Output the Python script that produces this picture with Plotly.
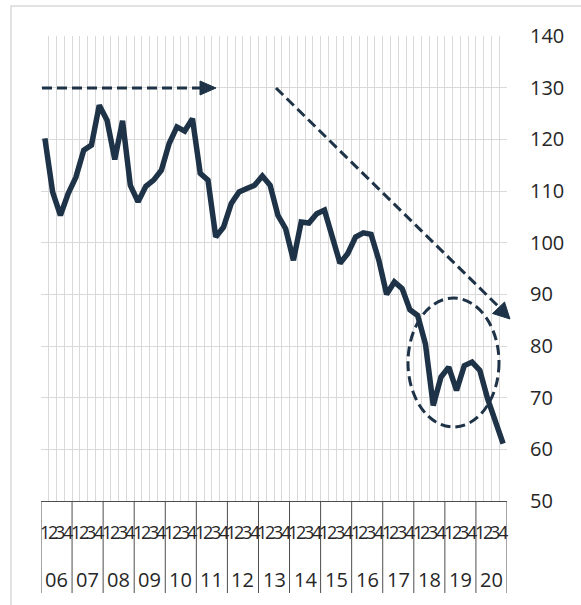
import plotly.graph_objects as go

# ---- data ----
years = ["06", "07", "08", "09", "10", "11", "12", "13", "14", "15", "16", "17", "18", "19", "20"]
quarters = ["1", "2", "3", "4"]
values = [
    120.2, 109.8, 105.3, 109.5,
    112.7, 117.9, 118.9, 126.6,
    123.7, 116.1, 123.6, 111.1,
    107.9, 110.9, 112.1, 114.0,
    119.2, 122.4, 121.6, 124.0,
    113.4, 112.1, 101.1, 103.0,
    107.6, 109.8, 110.5, 111.1,
    112.9, 111.1, 105.3, 102.7,
    96.6, 104.0, 103.8, 105.6,
    106.3, 101.1, 96.0, 97.9,
    101.1, 101.9, 101.6, 96.6,
    90.0, 92.4, 91.1, 87.0,
    85.9, 80.4, 68.5, 74.0,
    75.9, 71.4, 76.2, 76.9,
    75.3, 69.8, 65.6, 61.1,
]
y_ticks = [50, 60, 70, 80, 90, 100, 110, 120, 130, 140]

NAVY = "#1e3347"
GRID = "#d9d9d9"
AXIS = "#4d4d4d"
TEXT = "#262626"

W, H = 581, 605
L, R, T, B = 41, 507, 36, 501


def px(x):
    return (x - L) / (R - L)


def py(y):
    return (B - y) / (B - T)


n = len(values)
xs = list(range(n))

fig = go.Figure()
fig.add_trace(go.Scatter(
    x=xs, y=values, mode="lines",
    line=dict(color=NAVY, width=5.5),
    hoverinfo="skip", showlegend=False,
))

shapes = []
annotations = []

# outer chart border
shapes.append(dict(type="rect", xref="paper", yref="paper",
                   x0=px(11), x1=px(620), y0=py(6), y1=py(640),
                   line=dict(color=GRID, width=1.5), layer="below"))

# year separators below plot
for k in range(len(years) + 1):
    shapes.append(dict(type="line", xref="x", yref="paper",
                       x0=4 * k - 0.5, x1=4 * k - 0.5, y0=0, y1=py(593),
                       line=dict(color=AXIS, width=1)))

# category labels: quarter digit per category + year row
for k, yr in enumerate(years):
    for q, ql in enumerate(quarters):
        annotations.append(dict(x=4 * k + q, y=py(532), xref="x", yref="paper",
                                text=ql, showarrow=False, xanchor="center", yanchor="middle",
                                font=dict(family="Open Sans", size=18, color=TEXT)))
    annotations.append(dict(x=4 * k + 1.5, y=py(579), xref="x", yref="paper",
                            text=yr, showarrow=False, xanchor="center", yanchor="middle",
                            font=dict(family="Open Sans", size=20, color=TEXT)))

dash = "10px,5px"
# arrow 1 (horizontal)
shapes.append(dict(type="line", xref="paper", yref="paper",
                   x0=px(42), y0=py(88), x1=px(202), y1=py(88),
                   line=dict(color=NAVY, width=3, dash=dash)))
shapes.append(dict(type="path", xref="paper", yref="paper",
                   path=f"M {px(216)},{py(88)} L {px(200)},{py(81)} L {px(200)},{py(95)} Z",
                   fillcolor=NAVY, line=dict(color=NAVY, width=1)))
# arrow 2 (diagonal)
shapes.append(dict(type="line", xref="paper", yref="paper",
                   x0=px(276), y0=py(88), x1=px(499), y1=py(307),
                   line=dict(color=NAVY, width=3, dash=dash)))
shapes.append(dict(type="path", xref="paper", yref="paper",
                   path=f"M {px(510)},{py(319)} L {px(504.5)},{py(302)} L {px(492.5)},{py(313.5)} Z",
                   fillcolor=NAVY, line=dict(color=NAVY, width=1)))
# ellipse
shapes.append(dict(type="circle", xref="paper", yref="paper",
                   x0=px(408), x1=px(499), y0=py(298), y1=py(427),
                   line=dict(color=NAVY, width=3, dash=dash)))

fig.update_layout(
    width=W, height=H,
    margin=dict(l=L, r=W - R, t=T, b=H - B),
    paper_bgcolor="white", plot_bgcolor="white",
    shapes=shapes, annotations=annotations,
    xaxis=dict(range=[-0.5, n - 0.5], tickmode="linear", tick0=-0.5, dtick=4,
               showticklabels=False, ticks="", showgrid=True, gridcolor=GRID, gridwidth=1,
               minor=dict(tick0=-0.5, dtick=1, showgrid=True, gridcolor=GRID, gridwidth=1, ticks=""),
               showline=True, linecolor=AXIS, linewidth=1, zeroline=False, fixedrange=True),
    yaxis=dict(range=[50, 140], side="right", tickmode="array", tickvals=y_ticks,
               ticks="", showgrid=True, gridcolor=GRID, gridwidth=1, zeroline=False,
               showline=False, ticklabelstandoff=22,
               tickfont=dict(family="Open Sans", size=20, color=TEXT), fixedrange=True),
    font=dict(family="Open Sans", color=TEXT),
)

fig.write_html("out.html")
